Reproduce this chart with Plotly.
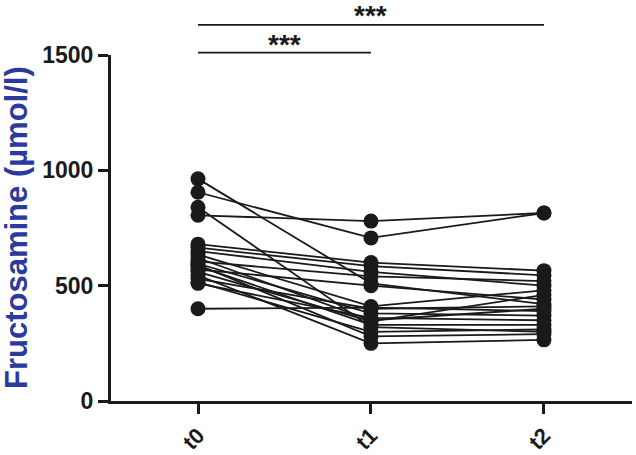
import plotly.graph_objects as go

categories = ["t0", "t1", "t2"]
t0 = [963, 905, 840, 805, 680, 665, 650, 635, 620, 605, 595, 585, 570, 560, 545, 530, 515, 510, 590, 400]
t1 = [510, 707, 320, 780, 600, 585, 560, 410, 350, 540, 380, 330, 500, 345, 250, 400, 300, 360, 280, 405]
t2 = [420, 815, 300, 815, 565, 545, 500, 480, 400, 520, 370, 330, 440, 460, 265, 410, 310, 350, 290, 390]
y_ticks = [0, 500, 1000, 1500]
sig_pairs = [(0, 2, "***"), (0, 1, "***")]

FONT = "Arial, Liberation Sans, sans-serif"
fig = go.Figure()
xs = list(range(len(categories)))
for a, b, c in zip(t0, t1, t2):
    fig.add_trace(go.Scatter(
        x=xs, y=[a, b, c], mode="lines+markers",
        line=dict(color="#1a1a1a", width=1.8),
        marker=dict(color="#1a1a1a", size=15),
        showlegend=False, cliponaxis=False,
    ))

# significance bars
bar_y = [1.087, 1.007]
star_y = [1.114, 1.029]
for (a, b, s), by, sy in zip(sig_pairs, bar_y, star_y):
    fig.add_shape(type="line", xref="x", yref="paper", x0=a, x1=b, y0=by, y1=by,
                  line=dict(color="#1a1a1a", width=1.8))
    fig.add_annotation(xref="x", yref="paper", x=(a + b) / 2, y=sy, text=f"<b>{s}</b>",
                       showarrow=False, font=dict(family=FONT, size=28, color="#1a1a1a"),
                       yanchor="middle")

fig.add_annotation(xref="paper", yref="paper", x=0, y=0.5, xshift=-95,
                   text="<b>Fructosamine (µmol/l)</b>", textangle=-90, showarrow=False,
                   font=dict(family=FONT, size=31, color="#2b3a9c"),
                   xanchor="center", yanchor="middle")

fig.update_layout(
    width=636, height=455,
    margin=dict(l=111, r=4, t=55, b=54),
    paper_bgcolor="white", plot_bgcolor="white",
    font=dict(family=FONT, color="#1a1a1a"),
)
fig.update_xaxes(
    range=[-0.503, 2.509], tickvals=xs, ticktext=[f"<b>{c}</b>" for c in categories],
    tickangle=-45, showgrid=False, zeroline=False, automargin=False,
    showline=True, linecolor="#1a1a1a", linewidth=3,
    ticks="outside", ticklen=10, tickwidth=2.5, tickcolor="#1a1a1a",
    tickfont=dict(family=FONT, size=22, color="#1a1a1a"),
)
fig.update_yaxes(
    range=[0, 1500], tickvals=y_ticks, ticktext=[f"<b>{v}</b>" for v in y_ticks],
    showgrid=False, zeroline=False, automargin=False,
    showline=True, linecolor="#1a1a1a", linewidth=3,
    ticks="outside", ticklen=10, tickwidth=2.5, tickcolor="#1a1a1a",
    tickfont=dict(family=FONT, size=23, color="#1a1a1a"),
)
fig.write_html("out.html", config={"displayModeBar": False},
               post_script="document.body.style.margin='0';document.body.style.overflow='hidden';")
